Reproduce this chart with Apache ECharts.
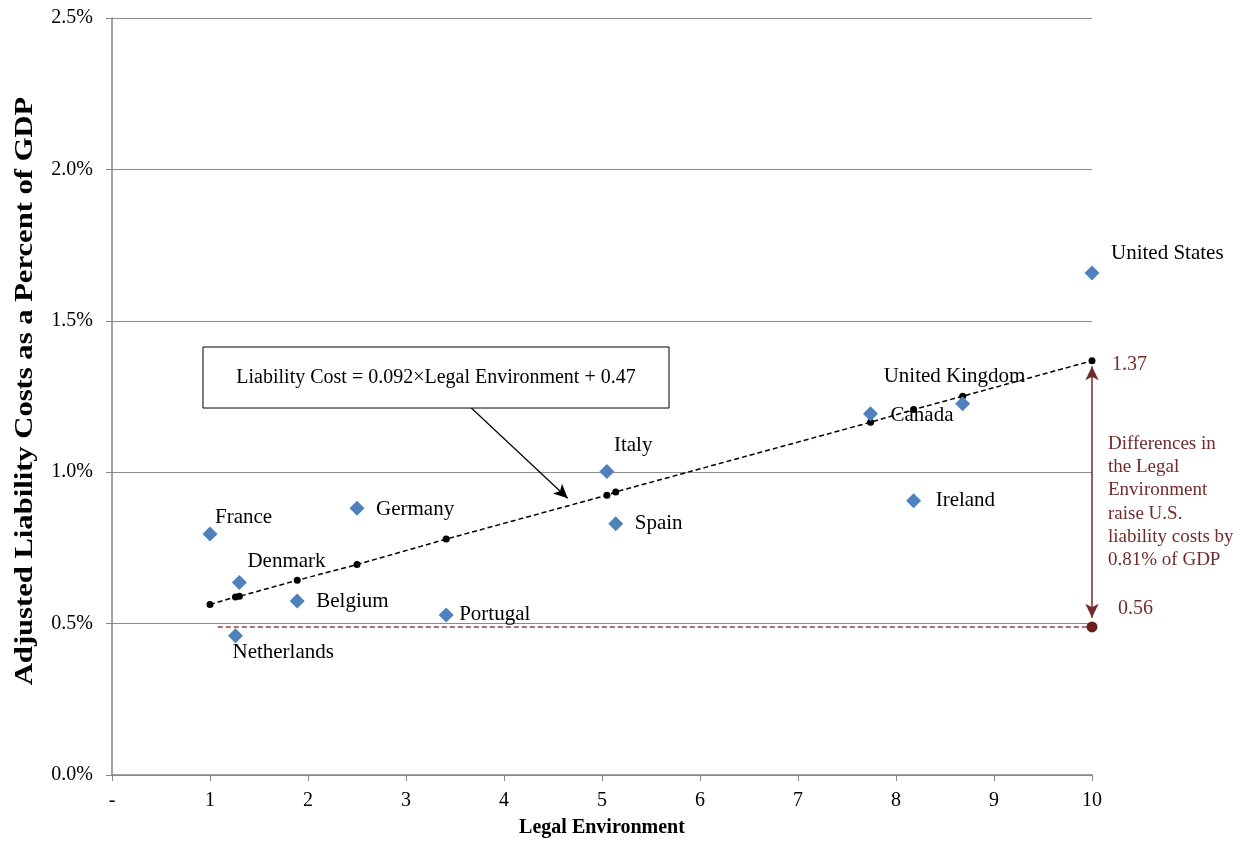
<!DOCTYPE html>
<html>
<head>
<meta charset="utf-8">
<script src="https://cdn.jsdelivr.net/npm/echarts@6/dist/echarts.min.js"></script>
<style>html,body{margin:0;padding:0;background:#fff;overflow:hidden}#c{width:1248px;height:843px}</style>
</head>
<body>
<div id="c"></div>
<script>
// ---- data ----
const countries = ['France','Denmark','Netherlands','Belgium','Germany','Portugal','Italy','Spain','Canada','United Kingdom','Ireland','United States'];
const legalEnv = [1.00,1.30,1.26,1.89,2.50,3.41,5.05,5.14,7.74,8.68,8.18,10.00];
const liabilityCost = [0.796,0.636,0.460,0.575,0.881,0.528,1.002,0.830,1.193,1.226,0.906,1.658];
const fitX = [1.00,1.26,1.30,1.89,2.50,3.41,5.05,5.14,7.74,8.18,8.68,10.00];
const fitY = [0.563,0.588,0.590,0.643,0.695,0.779,0.924,0.935,1.165,1.207,1.251,1.368];
const baselineX = [1.08, 10.00];
const baselineY = [0.489, 0.489];
const arrowTop = 1.350, arrowBottom = 0.519;
const xTickLabels = ['-','1','2','3','4','5','6','7','8','9','10'];
const yTickLabels = ['0.0%','0.5%','1.0%','1.5%','2.0%','2.5%'];
const eqText = 'Liability Cost = 0.092×Legal Environment + 0.47';
const noteLines = ['Differences in','the Legal','Environment','raise U.S.','liability costs by','0.81% of GDP'];
const topLabel = '1.37', bottomLabel = '0.56';
const xTitle = 'Legal Environment';
const yTitle = 'Adjusted Liability Costs as a Percent of GDP';

// ---- label placement (style) ----
const labelOffsets = {
  'France':[5,-16],'Denmark':[8,-21],'Netherlands':[-3,17],'Belgium':[19,1],
  'Germany':[19,1],'Portugal':[13,-1],'Italy':[7,-26],'Spain':[19,0],
  'Canada':[20,2],'United Kingdom':[-79,-27],'Ireland':[22,0],'United States':[19,-19]
};
const SERIF = '"Liberation Serif","Times New Roman",serif';
const DARKRED = '#722b2b';
const symSize = 15;

const scatterData = countries.map((n,i)=>({
  name:n, value:[legalEnv[i], liabilityCost[i]],
  label:{offset:[labelOffsets[n][0]-symSize/2, labelOffsets[n][1]]}
}));

const chart = echarts.init(document.getElementById('c'));
chart.setOption({
  animation:false,
  grid:{left:112,right:156,top:18,bottom:64,containLabel:false},
  xAxis:{
    type:'value',min:0,max:10,interval:1,
    axisLine:{show:true,lineStyle:{color:'#868686',width:1.5}},
    axisTick:{show:true,inside:false,length:6,lineStyle:{color:'#868686'}},
    axisLabel:{margin:16,color:'#000',fontFamily:SERIF,fontSize:20,formatter:v=>xTickLabels[Math.round(v)]},
    splitLine:{show:false},
    name:xTitle,nameLocation:'middle',nameGap:43,
    nameTextStyle:{fontFamily:SERIF,fontWeight:'bold',fontSize:20,color:'#000'}
  },
  yAxis:{
    type:'value',min:0,max:2.5,interval:0.5,
    axisLine:{show:true,lineStyle:{color:'#868686',width:1.5}},
    axisTick:{show:true,inside:false,length:6,lineStyle:{color:'#868686'}},
    axisLabel:{margin:19,color:'#000',fontFamily:SERIF,fontSize:20,formatter:v=>yTickLabels[Math.round(v/0.5)]},
    splitLine:{show:true,lineStyle:{color:'#8c8c8c',width:1}}
  },
  series:[
    {
      type:'line',name:'baseline',data:baselineX.map((x,i)=>[x,baselineY[i]]),
      showSymbol:false,symbol:'none',
      lineStyle:{color:'#8e4646',width:1.6,type:[5,3],opacity:1},z:2,silent:true
    },
    {
      type:'scatter',name:'baseDot',data:[[baselineX[1],baselineY[1]]],
      symbol:'circle',symbolSize:11,itemStyle:{color:'#6b1f1f',opacity:1},z:5,
      markLine:{
        silent:true,symbol:['arrow','arrow'],symbolSize:[10,14],
        label:{show:false},
        lineStyle:{color:DARKRED,width:1.5,type:'solid'},
        data:[[{coord:[10,arrowTop]},{coord:[10,arrowBottom]}]]
      }
    },
    {
      type:'line',name:'fit',data:fitX.map((x,i)=>[x,fitY[i]]),
      symbol:'circle',symbolSize:7,showSymbol:true,
      itemStyle:{color:'#000',opacity:1},
      lineStyle:{color:'#000',width:1.5,type:[5,3]},z:3,
      markLine:{
        silent:true,symbol:['none','arrow'],symbolSize:[10,14],
        label:{show:false},
        lineStyle:{color:'#000',width:1.2,type:'solid'},
        data:[[{coord:[3.65,1.217]},{coord:[4.65,0.914]}]]
      }
    },
    {
      type:'scatter',name:'countries',data:scatterData,
      symbol:'diamond',symbolSize:symSize,
      itemStyle:{color:'#4f81bd',opacity:1},z:4,
      label:{show:true,position:'right',distance:0,formatter:p=>p.name,
        color:'#000',opacity:1,fontFamily:SERIF,fontSize:21}
    }
  ],
  graphic:[
    {type:'rect',shape:{x:203,y:347,width:466,height:61},style:{fill:'#fff',stroke:'#000',lineWidth:1},z:10},
    {type:'text',x:436,y:378,style:{text:eqText,textAlign:'center',textVerticalAlign:'middle',font:'20px '+SERIF,fill:'#000'},z:11},
    {type:'text',x:1112,y:365,style:{text:topLabel,textVerticalAlign:'middle',font:'20px '+SERIF,fill:DARKRED},z:11},
    {type:'text',x:1118,y:609,style:{text:bottomLabel,textVerticalAlign:'middle',font:'20px '+SERIF,fill:DARKRED},z:11},
    {type:'text',x:1108,y:432,style:{text:noteLines.join('\n'),textVerticalAlign:'top',lineHeight:23.3,font:'19px '+SERIF,fill:DARKRED},z:11},
    {type:'text',x:25,y:391,rotation:Math.PI/2,scaleX:1.2,style:{text:yTitle,textAlign:'center',textVerticalAlign:'middle',font:'bold 25.5px '+SERIF,fill:'#000'},z:11}
  ]
});
</script>
</body>
</html>
